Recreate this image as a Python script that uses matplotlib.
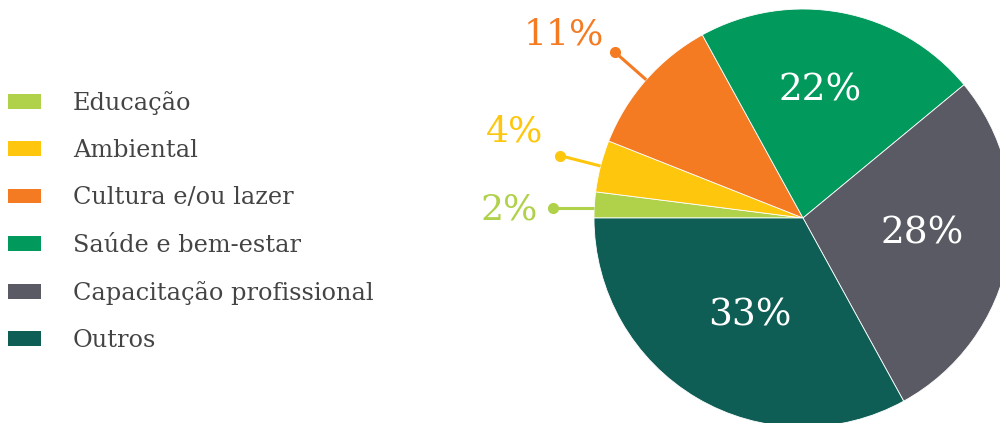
import numpy as np
import matplotlib
matplotlib.use('Agg')
import matplotlib.pyplot as plt

labels=['Educação','Ambiental','Cultura e/ou lazer','Saúde e bem-estar','Capacitação profissional','Outros']
values=[2,4,11,22,28,33]
colors=['#b0d14a','#fec70e','#f47b22','#02995d','#5a5a64','#0e5e55']
pct_text=['2%','4%','11%','22%','28%','33%']

W,H=1000,423
fig=plt.figure(figsize=(10,4.23),dpi=100)
ax=fig.add_axes([0,0,1,1])

cx,cy,R=803,H-218,209
wedges,_=ax.pie(values,colors=colors,startangle=180,counterclock=False,
                center=(cx,cy),radius=R,frame=True,
                wedgeprops=dict(linewidth=0.6,edgecolor='white'))
ax.set_xlim(0,W)
ax.set_ylim(0,H)
ax.set_aspect('equal')
ax.axis('off')

# labels inside the big slices
inside_pos={3:(820,H-90),4:(922,H-233),5:(750,H-316)}
for i,(x,y) in inside_pos.items():
    ax.text(x,y,pct_text[i],color='white',fontsize=27,family='DejaVu Serif',
            ha='center',va='center')

# callouts for the small slices
text_off={0:(-44,-2),1:(-46,24),2:(-51,18)}
for i in range(3):
    w=wedges[i]
    ang=np.deg2rad((w.theta1+w.theta2)/2)
    ex,ey=cx+R*np.cos(ang),cy+R*np.sin(ang)
    dr=1.2*R
    dx,dy=cx+dr*np.cos(ang),cy+dr*np.sin(ang)
    if i==0:
        ey=ey-3
        dy=ey
    ax.plot([dx,ex],[dy,ey],color=colors[i],lw=2.2,solid_capstyle='butt',zorder=3)
    ax.plot(dx,dy,'o',color=colors[i],ms=7,zorder=3)
    ox,oy=text_off[i]
    ax.text(dx+ox,dy+oy,pct_text[i],color=colors[i],fontsize=26,family='DejaVu Serif',
            ha='center',va='center')

leg=ax.legend(wedges,labels,loc='upper left',bbox_to_anchor=(0.008,0.785),
              frameon=False,prop={'family':'DejaVu Serif','size':17.3},
              handlelength=1.375,handleheight=0.58,labelspacing=1.01,handletextpad=1.33,
              borderaxespad=0,borderpad=0)
for t in leg.get_texts():
    t.set_color('#444444')
for h in leg.legend_handles:
    h.set_linewidth(0)

fig.savefig('out.png',dpi=100)
